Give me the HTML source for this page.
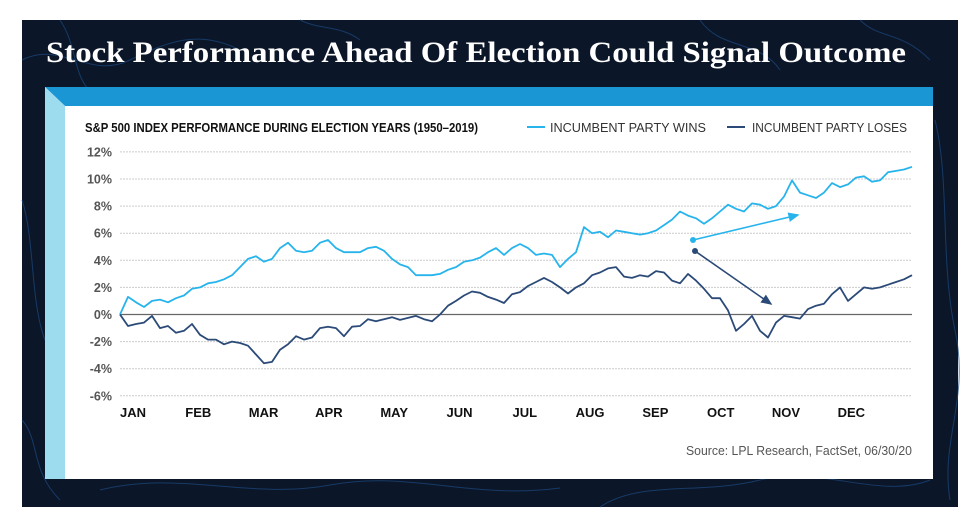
<!DOCTYPE html>
<html><head><meta charset="utf-8">
<style>
html,body{margin:0;padding:0;background:#fff;}
body{width:972px;height:531px;overflow:hidden;position:relative;}
svg{position:absolute;left:0;top:0;}
</style></head>
<body>
<svg width="972" height="531" viewBox="0 0 972 531">
  <rect x="22" y="20" width="936" height="487" fill="#0b1629"/>
  <g fill="none" stroke="#1d4a80" stroke-width="1" opacity="0.7">
    <path d="M22 60 C60 40 90 80 130 60 S200 30 240 50"/>
    <path d="M60 20 C80 50 70 80 100 100"/>
    <path d="M22 200 C35 240 30 300 45 340"/>
    <path d="M22 420 C40 440 30 470 60 500"/>
    <path d="M100 490 C180 470 250 500 330 485 S470 500 560 488"/>
    <path d="M600 507 C640 480 700 495 760 480 S880 500 930 480"/>
    <path d="M935 120 C950 180 940 260 955 330 S940 440 950 500"/>
    <path d="M700 20 C720 50 760 40 780 70"/>
    <path d="M860 20 C880 40 900 30 930 60"/>
    <path d="M300 20 C320 30 340 25 360 40"/>
  </g>
  <text x="46" y="62" fill="#ffffff" font-family="'Liberation Serif', serif" font-weight="bold" font-size="30" textLength="860" lengthAdjust="spacingAndGlyphs">Stock Performance Ahead Of Election Could Signal Outcome</text>

  <rect x="45" y="87" width="888" height="392" fill="#ffffff"/>
  <polygon points="45,87 933,87 933,106 65,106" fill="#1a96d4"/>
  <polygon points="45,87 65,106 65,479 45,479" fill="#9ddcef"/>

  <text x="85" y="132" fill="#111" font-family="'Liberation Sans Narrow','Liberation Sans',sans-serif" font-weight="bold" font-size="13" textLength="393" lengthAdjust="spacingAndGlyphs">S&amp;P 500 INDEX PERFORMANCE DURING ELECTION YEARS (1950–2019)</text>

  <g>
    <line x1="527" y1="127" x2="545" y2="127" stroke="#27b4ec" stroke-width="2"/>
    <text x="550" y="132" fill="#333" font-family="'Liberation Sans Narrow','Liberation Sans',sans-serif" font-size="13" textLength="156" lengthAdjust="spacingAndGlyphs">INCUMBENT PARTY WINS</text>
    <line x1="727" y1="127" x2="745" y2="127" stroke="#2b4a78" stroke-width="2"/>
    <text x="752" y="132" fill="#333" font-family="'Liberation Sans Narrow','Liberation Sans',sans-serif" font-size="13" textLength="155" lengthAdjust="spacingAndGlyphs">INCUMBENT PARTY LOSES</text>
  </g>

  <g id="grid"></g>
  <g id="yticks"></g>
  <g id="xticks"></g>
  <g id="series"></g>

  <g>
    <defs>
      <marker id="ahL" markerWidth="8" markerHeight="8" refX="6" refY="3" orient="auto"><path d="M0,0 L7,3 L0,6 z" fill="#27b4ec"/></marker>
      <marker id="ahD" markerWidth="8" markerHeight="8" refX="6" refY="3" orient="auto"><path d="M0,0 L7,3 L0,6 z" fill="#2b4a78"/></marker>
    </defs>
    <circle cx="693" cy="240" r="3" fill="#27b4ec"/>
    <line x1="693" y1="240" x2="798" y2="215" stroke="#27b4ec" stroke-width="1.6" marker-end="url(#ahL)"/>
    <circle cx="695" cy="251" r="3" fill="#2b4a78"/>
    <line x1="695" y1="251" x2="771" y2="304" stroke="#2b4a78" stroke-width="1.6" marker-end="url(#ahD)"/>
  </g>

  <text x="686" y="455" fill="#555" font-family="'Liberation Sans Narrow','Liberation Sans',sans-serif" font-size="13" textLength="226" lengthAdjust="spacingAndGlyphs">Source: LPL Research, FactSet,  06/30/20</text>
</svg>
<script>
const yTicks = [12,10,8,6,4,2,0,-2,-4,-6];
const yTickLabels = ["12%","10%","8%","6%","4%","2%","0%","-2%","-4%","-6%"];
const months = ["JAN","FEB","MAR","APR","MAY","JUN","JUL","AUG","SEP","OCT","NOV","DEC"];
const winsValues = [0,1.3,0.9,0.55,1.0,1.1,0.9,1.2,1.4,1.9,2.0,2.3,2.4,2.6,2.9,3.5,4.1,4.3,3.9,4.1,4.9,5.3,4.7,4.6,4.7,5.3,5.5,4.9,4.6,4.6,4.6,4.9,5.0,4.7,4.1,3.7,3.5,2.9,2.9,2.9,3.0,3.3,3.5,3.9,4.0,4.2,4.6,4.9,4.4,4.9,5.2,4.9,4.4,4.5,4.4,3.5,4.1,4.6,6.45,6.0,6.1,5.7,6.2,6.1,6.0,5.9,6.0,6.2,6.6,7.0,7.6,7.3,7.1,6.7,7.1,7.6,8.1,7.8,7.6,8.2,8.1,7.8,8.0,8.7,9.9,9.0,8.8,8.6,9.0,9.7,9.4,9.6,10.1,10.2,9.8,9.9,10.5,10.6,10.7,10.9];
const losesValues = [0,-0.85,-0.7,-0.6,-0.1,-1.0,-0.85,-1.35,-1.2,-0.7,-1.5,-1.85,-1.85,-2.2,-2.0,-2.1,-2.3,-2.95,-3.6,-3.5,-2.6,-2.2,-1.6,-1.85,-1.7,-1.0,-0.9,-1.0,-1.6,-0.9,-0.85,-0.35,-0.5,-0.35,-0.2,-0.4,-0.25,-0.1,-0.35,-0.5,0,0.65,1.0,1.4,1.7,1.6,1.3,1.1,0.85,1.5,1.65,2.1,2.4,2.7,2.4,2.0,1.55,2.0,2.3,2.9,3.1,3.4,3.5,2.8,2.7,2.9,2.8,3.2,3.1,2.5,2.3,3.0,2.5,1.9,1.2,1.2,0.3,-1.2,-0.7,-0.1,-1.2,-1.7,-0.6,-0.1,-0.2,-0.3,0.4,0.65,0.8,1.5,2.0,1.0,1.5,2.0,1.9,2.0,2.2,2.4,2.6,2.9];

const NS = "http://www.w3.org/2000/svg";
const X0 = 120, X1 = 912, Y0 = 314.5, PX = 13.55;
function yScale(v){ return Y0 - v*PX; }
function xScale(i, n){ return X0 + (X1 - X0) * i / (n - 1); }
function monthX(m){ return 133 + m * 65.3; }

const grid = document.getElementById('grid');
const yt = document.getElementById('yticks');
yTicks.forEach((v, i) => {
  const ln = document.createElementNS(NS, 'line');
  ln.setAttribute('x1', X0); ln.setAttribute('x2', X1);
  ln.setAttribute('y1', yScale(v)); ln.setAttribute('y2', yScale(v));
  if (v === 0) { ln.setAttribute('stroke', '#666'); ln.setAttribute('stroke-width', '1.3'); }
  else { ln.setAttribute('stroke', '#ccc'); ln.setAttribute('stroke-width', '1'); ln.setAttribute('stroke-dasharray', '2,1'); }
  
  
  grid.appendChild(ln);
  const t = document.createElementNS(NS, 'text');
  t.setAttribute('x', 112); t.setAttribute('y', yScale(v) + 4.5);
  t.setAttribute('text-anchor', 'end');
  t.setAttribute('fill', '#555');
  t.setAttribute('font-weight', 'bold');
  t.setAttribute('font-family', "'Liberation Sans Narrow','Liberation Sans',sans-serif");
  t.setAttribute('font-size', '12.5');
  t.textContent = yTickLabels[i];
  
  
  yt.appendChild(t);
});

const xt = document.getElementById('xticks');
months.forEach((m, i) => {
  const t = document.createElementNS(NS, 'text');
  t.setAttribute('x', monthX(i)); t.setAttribute('y', 417);
  t.setAttribute('text-anchor', 'middle');
  t.setAttribute('fill', '#111');
  t.setAttribute('font-weight', 'bold');
  t.setAttribute('font-family', "'Liberation Sans Narrow','Liberation Sans',sans-serif");
  t.setAttribute('font-size', '13');
  t.textContent = m;
  
  
  xt.appendChild(t);
});

const series = document.getElementById('series');
function drawLine(vals, color, name){
  const p = document.createElementNS(NS, 'path');
  let d = '';
  vals.forEach((v, i) => { d += (i ? 'L' : 'M') + xScale(i, vals.length).toFixed(1) + ',' + yScale(v).toFixed(1); });
  p.setAttribute('d', d);
  p.setAttribute('fill', 'none');
  p.setAttribute('stroke', color);
  p.setAttribute('stroke-width', '1.8');
  p.setAttribute('stroke-linejoin', 'round');
  
  
  series.appendChild(p);
}
drawLine(winsValues, '#27b4ec', 'line-incumbent-wins');
drawLine(losesValues, '#2b4a78', 'line-incumbent-loses');
</script>
</body></html>
